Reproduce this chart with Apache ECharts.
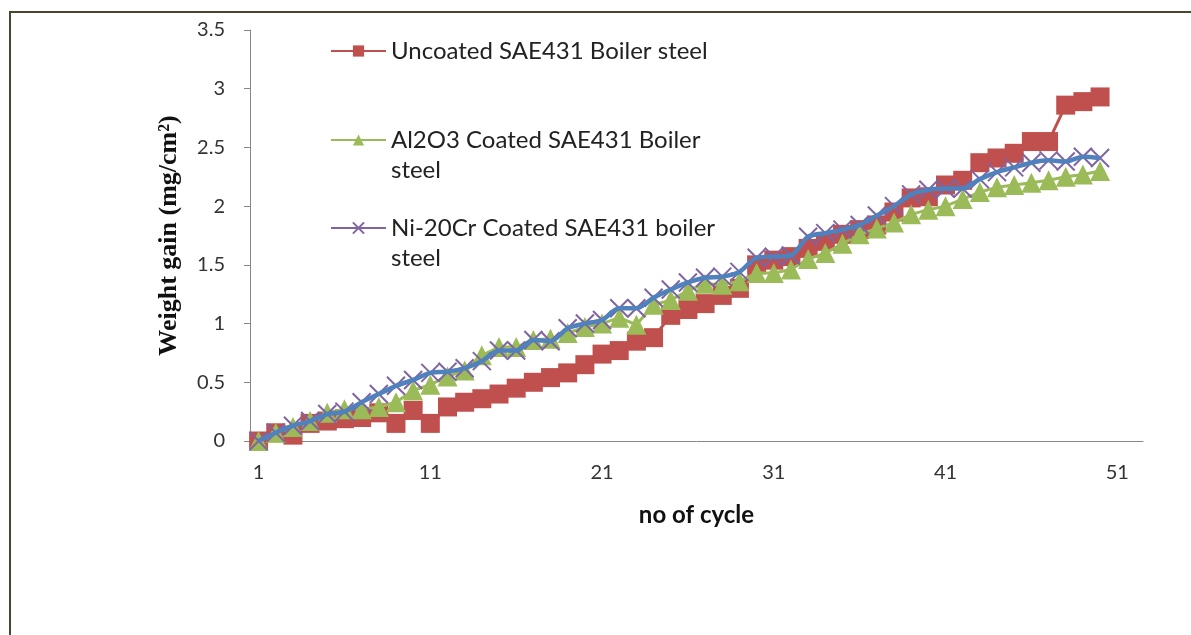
<!DOCTYPE html>
<html>
<head>
<meta charset="utf-8">
<script src="https://cdn.jsdelivr.net/npm/echarts@6/dist/echarts.min.js"></script>
<style>
html,body{margin:0;padding:0;background:#fff;}
#chart{width:1191px;height:635px;}
</style>
</head>
<body>
<div id="chart"></div>
<script>
var cycles = ['1','2','3','4','5','6','7','8','9','10','11','12','13','14','15','16','17','18','19','20','21','22','23','24','25','26','27','28','29','30','31','32','33','34','35','36','37','38','39','40','41','42','43','44','45','46','47','48','49','50','51','52'];

var uncoated = [0,0.07,0.05,0.15,0.17,0.19,0.2,0.24,0.15,0.26,0.15,0.29,0.33,0.36,0.4,0.45,0.5,0.54,0.58,0.65,0.74,0.77,0.85,0.88,1.07,1.12,1.17,1.24,1.3,1.5,1.54,1.57,1.64,1.7,1.76,1.8,1.84,1.95,2.07,2.08,2.18,2.22,2.37,2.41,2.45,2.55,2.55,2.86,2.89,2.93];

var al2o3 = [0,0.07,0.12,0.17,0.24,0.27,0.27,0.29,0.33,0.43,0.48,0.55,0.6,0.73,0.8,0.8,0.86,0.87,0.92,0.97,1.0,1.05,0.99,1.16,1.2,1.28,1.34,1.33,1.36,1.43,1.43,1.46,1.55,1.6,1.68,1.76,1.81,1.86,1.93,1.97,2.0,2.06,2.12,2.16,2.18,2.2,2.22,2.25,2.27,2.3];

var ni20cr = [0,0.07,0.13,0.17,0.23,0.25,0.33,0.4,0.47,0.52,0.58,0.59,0.62,0.68,0.77,0.77,0.86,0.85,0.96,1.0,1.03,1.13,1.13,1.22,1.29,1.35,1.39,1.4,1.44,1.56,1.57,1.58,1.74,1.77,1.8,1.84,1.92,2.0,2.1,2.14,2.15,2.15,2.23,2.29,2.33,2.37,2.39,2.38,2.42,2.41];

var names = ['Uncoated SAE431 Boiler steel','Al2O3 Coated SAE431 Boiler\nsteel','Ni-20Cr Coated SAE431 boiler\nsteel'];

var chart = echarts.init(document.getElementById('chart'), null, {renderer:'canvas'});
var legendText = {fontFamily:'Lato', fontSize:24, color:'#222', lineHeight:30};
var twoLine = function (n) { return ' \n' + n; };
var option = {
  animation:false,
  backgroundColor:'#fff',
  graphic:[{type:'rect', shape:{x:10,y:12,width:1200,height:700}, style:{fill:'none', stroke:'#4a4630', lineWidth:2}, silent:true}],
  grid:{left:250,right:48,top:30,bottom:194},
  legend:[
    {data:[names[0]], left:330, top:36, padding:0, itemWidth:55, itemHeight:14, textStyle:legendText, selectedMode:false},
    {data:[names[1]], left:330, top:95, padding:0, itemWidth:55, itemHeight:14, textStyle:legendText, formatter:twoLine, selectedMode:false},
    {data:[names[2]], left:330, top:183, padding:0, itemWidth:55, itemHeight:14, textStyle:legendText, formatter:twoLine, selectedMode:false}
  ],
  xAxis:{
    type:'category', data:cycles, boundaryGap:true,
    name:'no of cycle', nameLocation:'middle', nameGap:62,
    nameTextStyle:{fontFamily:'Lato', fontWeight:'bold', fontSize:24, color:'#111'},
    axisLine:{lineStyle:{color:'#868686', width:1}},
    axisTick:{interval:0, length:5, lineStyle:{color:'#868686'}},
    axisLabel:{interval:9, fontFamily:'Lato', fontSize:20, color:'#333', margin:22}
  },
  yAxis:{
    type:'value', min:0, max:3.5, interval:0.5,
    name:'Weight gain (mg/cm²)', nameLocation:'middle', nameGap:68,
    nameTextStyle:{fontFamily:'Liberation Serif', fontWeight:'bold', fontSize:26, color:'#111'},
    axisLine:{show:true, lineStyle:{color:'#868686', width:1}},
    axisTick:{show:true, length:6, lineStyle:{color:'#868686'}},
    splitLine:{show:false},
    axisLabel:{fontFamily:'Lato', fontSize:20, color:'#333', margin:25}
  },
  series:[
    {name:names[0], type:'line', data:uncoated, symbol:'rect', symbolSize:19, showAllSymbol:true,
     itemStyle:{color:'#C0504D'}, lineStyle:{color:'#C0504D', width:3}, z:2},
    {name:names[1], type:'line', data:al2o3, symbol:'triangle', symbolSize:20, showAllSymbol:true,
     itemStyle:{color:'#9BBB59'}, lineStyle:{color:'#9BBB59', width:3}, z:3},
    {name:names[2], type:'line', data:ni20cr, symbol:'path://M0,0L10,10M10,0L0,10', symbolSize:18, showAllSymbol:true,
     itemStyle:{color:'rgba(0,0,0,0)', borderColor:'#8064A2', borderWidth:2}, lineStyle:{color:'#8064A2', width:3}, z:4},
    {name:'ni-line', type:'line', data:ni20cr, symbol:'none', smooth:0.3,
     lineStyle:{color:'#4F81BD', width:4.5}, z:5}
  ]
};
chart.setOption(option);
</script>
</body>
</html>
